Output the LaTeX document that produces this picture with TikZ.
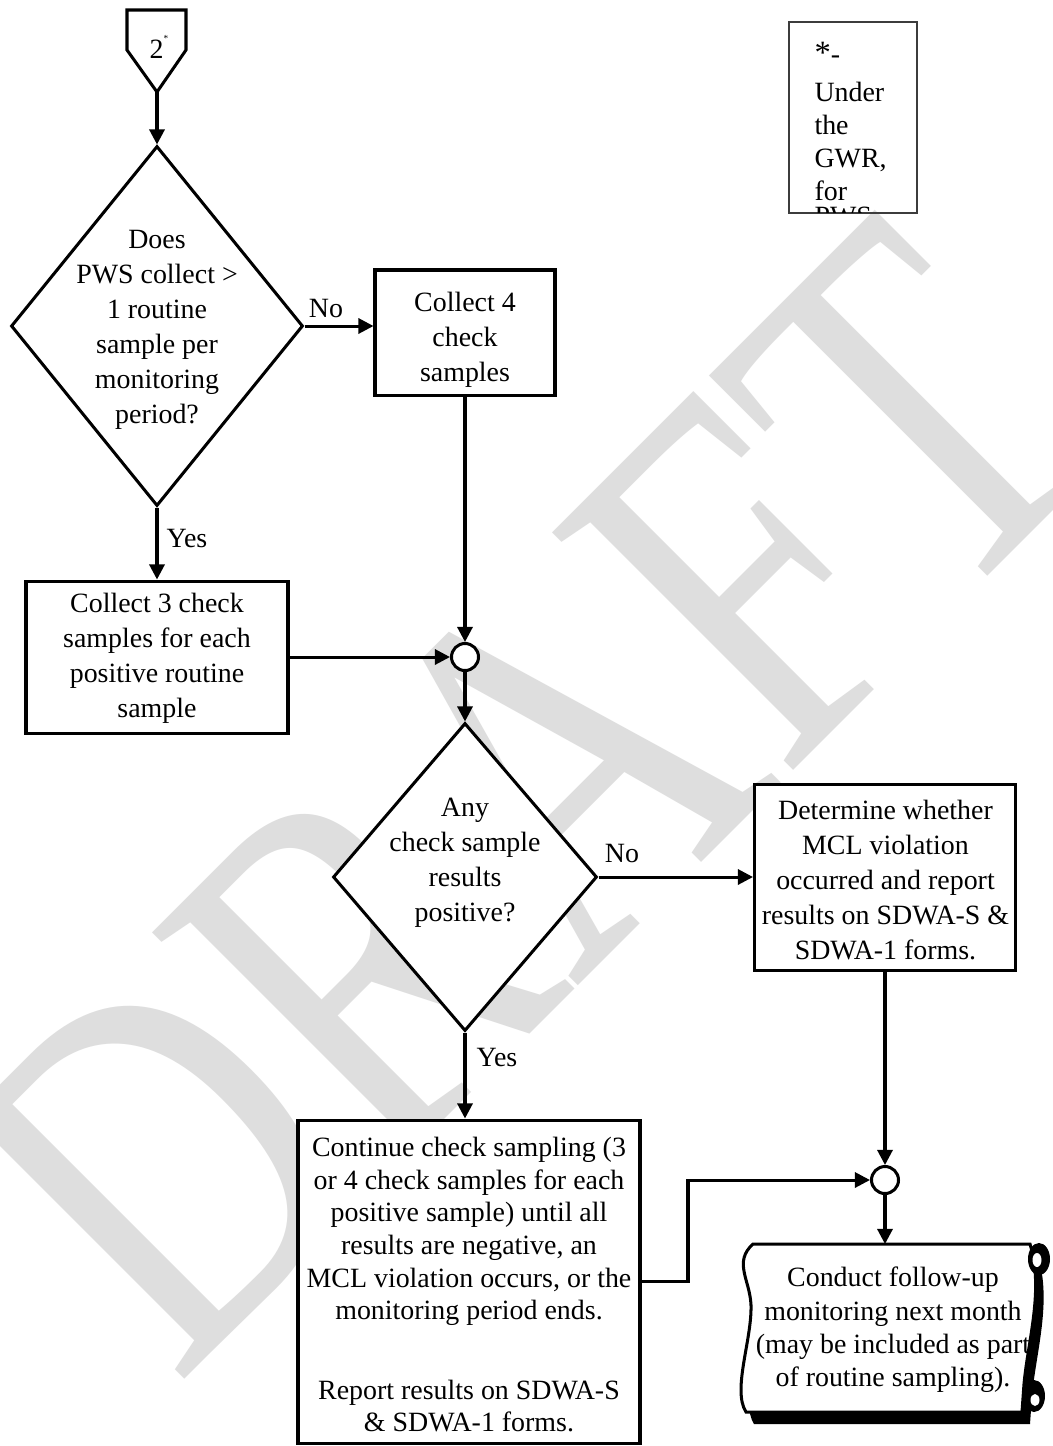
\documentclass[tikz,border=0pt]{standalone}
\usepackage{fontspec}
\setmainfont{Liberation Serif}
\usetikzlibrary{arrows.meta,shapes.geometric}
\definecolor{wmgray}{RGB}{222,222,222}
\definecolor{notegray}{RGB}{60,60,60}

\begin{document}
\begin{tikzpicture}[x=0.43pt,y=-0.43pt,
  line width=1.3pt,
  flow/.style={-{Triangle[length=6.5pt,width=6.5pt]}, line width=1.3pt},
  box/.style={draw, fill=white, rectangle, inner sep=0, line width=1.3pt},
  dec/.style={draw, fill=white, diamond, inner sep=0, line width=1.3pt},
  junc/.style={draw, fill=white, circle, inner sep=0, minimum size=27*0.43pt, line width=1.3pt},
  txt/.style={align=center, inner sep=0, font=\fontsize{12}{15.05}\selectfont},
  lbl/.style={inner sep=0, font=\fontsize{12}{14}\selectfont},
]
\useasboundingbox (0,0) rectangle (1053,1446);
\fill[white] (0,0) rectangle (1053,1446);

% background watermark
\node[rotate=45, anchor=base west, inner sep=0, text=wmgray] (wm) at (175,1389)
  {\scalebox{1}[1.27]{\fontsize{175}{175}\selectfont DRAFT}};

% off-page connector
\draw[line width=1.3pt, fill=white] (127,10) -- (186,10) -- (186,50) -- (157,92) -- (127,50) -- cycle;
\coordinate (off2) at (157,92);
\node[lbl] (p2) at (159,47) {2\raisebox{7pt}{\fontsize{4}{4}\selectfont *}};

% footnote box (text runs past its lower edge)
\node[draw=notegray, line width=0.7pt, rectangle, inner sep=0,
      minimum width=128*0.43pt, minimum height=191*0.43pt] (note) at (853,117.5) {};
\begin{scope}
  \clip (791,24) rectangle (915,212);
  \node[anchor=north west, align=left, inner sep=0, font=\fontsize{12}{14.2}\selectfont]
    (notet) at (813,41) {{\fontsize{14}{14}\selectfont *}-\\[2pt]Under\\the\\GWR,\\for\\[-3.5pt]PWS};
\end{scope}

% first decision
\node[dec, minimum width=292*0.43pt, minimum height=360*0.43pt] (d1) at (157,326) {};
\node[txt] (d1t) at (157,330) {Does\\PWS collect >\\1 routine\\sample per\\monitoring\\period?};

% check-sample boxes
\node[box, minimum width=180*0.43pt, minimum height=125*0.43pt] (c4) at (465,332.5) {};
\node[txt] (c4t) at (465,340) {Collect 4\\check\\samples};

\node[box, minimum width=262*0.43pt, minimum height=152*0.43pt] (c3) at (157,657) {};
\node[txt] (c3t) at (157,658.5) {Collect 3 check\\samples for each\\positive routine\\sample};

\node[junc] (j1) at (465,657) {};

% second decision
\node[dec, minimum width=264*0.43pt, minimum height=308*0.43pt] (d2) at (465,877) {};
\node[txt] (d2t) at (465,862.5) {Any\\check sample\\results\\positive?};

\node[box, minimum width=261*0.43pt, minimum height=186*0.43pt] (det) at (885,877) {};
\node[txt] (dett) at (885.5,880) {Determine whether\\MCL violation\\occurred and report\\results on SDWA-S \&\\SDWA-1 forms.};

\node[box, minimum width=342*0.43pt, minimum height=323*0.43pt] (cont) at (469,1281.5) {};
\node[txt, font=\fontsize{12}{14}\selectfont] (contt) at (469,1231.5)
  {Continue check sampling (3\\or 4 check samples for each\\positive sample) until all\\results are negative, an\\MCL violation occurs, or the\\monitoring period ends.};
\node[txt, font=\fontsize{12}{14}\selectfont] (contr) at (469,1406)
  {Report results on SDWA-S\\\& SDWA-1 forms.};

\node[junc] (j2) at (885,1180) {};

% scroll: shadow, body, curls
\begin{scope}[shift={(8,12)}]
  \fill[black] (753,1244) -- (1030,1244) .. controls (1044,1290) and (1028,1340) .. (1024,1384)
    -- (1022,1412) -- (746,1412) .. controls (732,1390) and (752,1340) .. (751,1305)
    .. controls (750,1280) and (733,1262) .. (753,1244) -- cycle;
\end{scope}
\filldraw[fill=white, line width=1.3pt] (753,1244) -- (1030,1244) .. controls (1044,1290) and (1028,1340) .. (1024,1384)
    -- (1022,1412) -- (746,1412) .. controls (732,1390) and (752,1340) .. (751,1305)
    .. controls (750,1280) and (733,1262) .. (753,1244) -- cycle;
\fill[black] (1039,1259) ellipse [x radius=11, y radius=16];
\fill[white] (1037,1260) ellipse [x radius=4.5, y radius=7];
\fill[black] (1034,1396) ellipse [x radius=11, y radius=16];
\fill[white] (1035,1400) ellipse [x radius=4.5, y radius=6];
\coordinate (scrolltop) at (885,1244);
\node[txt, font=\fontsize{12}{14.3}\selectfont] (scrt) at (893,1330)
  {Conduct follow-up\\monitoring next month\\(may be included as part\\of routine sampling).};

% connectors
\coordinate (bend) at (688,1180);
\draw[flow] (off2) -- (d1.north);
\draw[flow] (d1.east) -- (d1.east -| c4.west);
\draw[flow] (d1.south) -- (c3.north);
\draw[flow] (c4.south) -- (j1.north);
\draw[flow] (c3.east) -- (j1.west);
\draw[flow] (j1.south) -- (d2.north);
\draw[flow] (d2.east) -- (det.west);
\draw[flow] (d2.south) -- (d2.south |- cont.north);
\draw[flow] (det.south) -- (j2.north);
\draw[flow] (cont.east) -| (bend) -- (j2.west);
\draw[flow] (j2.south) -- (scrolltop);

% branch labels
\node[lbl] (no1) at (326,308) {No};
\node[lbl] (yes1) at (187,538) {Yes};
\node[lbl] (no2) at (622,853) {No};
\node[lbl] (yes2) at (497,1057) {Yes};
\end{tikzpicture}
\end{document}
